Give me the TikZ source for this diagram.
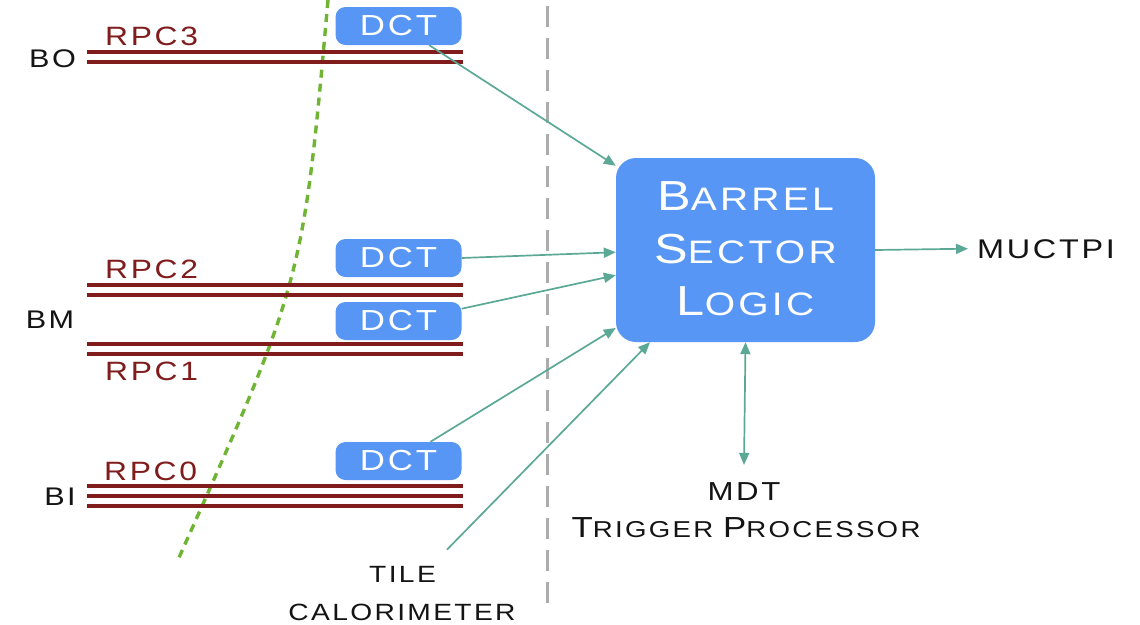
\documentclass[tikz,border=0pt]{standalone}
\usepackage{fontspec}
\setmainfont{Liberation Sans}
\newfontfamily\cpfont[FakeStretch=1.2,LetterSpace=10]{Liberation Sans}
\usetikzlibrary{arrows.meta}
\definecolor{boxblue}{RGB}{88,150,245}
\definecolor{rpcred}{RGB}{128,28,28}
\definecolor{arrowteal}{RGB}{92,168,150}
\definecolor{dotgreen}{RGB}{112,180,52}
\definecolor{dashgray}{RGB}{172,172,172}
\newcommand{\fs}[1]{\fontsize{#1}{#1}\selectfont}
\newcommand{\fsc}[4]{{\fs{#1}#3}{\fs{#2}#4}}
\begin{document}
\begin{tikzpicture}[x=1pt,y=-1pt,
  lbl/.style={inner sep=0pt, font=\cpfont\fs{25.5}, text=black!92},
  rpclbl/.style={lbl, text=rpcred, anchor=base west, font=\cpfont\fs{26.5}},
  dctbox/.style={fill=boxblue, rounded corners=10pt, minimum width=126pt, minimum height=38pt, inner sep=0pt, text=white, font=\cpfont\fs{29}},
  bigbox/.style={fill=boxblue, rounded corners=20pt, minimum width=259pt, minimum height=184pt, inner sep=0pt},
  boxtxt/.style={inner sep=0pt, text=white, font=\cpfont\fs{33}, anchor=base},
  rpc/.style={draw=rpcred, line width=3.2pt},
  sig/.style={draw=arrowteal, line width=1.7pt, -{Triangle[length=12pt,width=10pt]}},
  sigboth/.style={draw=arrowteal, line width=1.7pt, {Triangle[length=12pt,width=10pt]}-{Triangle[length=12pt,width=10pt]}},
  greendot/.style={draw=dotgreen, line width=3.4pt, dash pattern=on 8pt off 6pt},
  graydash/.style={draw=dashgray, line width=3pt, dash pattern=on 21pt off 11pt},
]
\useasboundingbox (0,0) rectangle (1140,624);
\fill[white] (0,0) rectangle (1140,624);

% separators
\draw[graydash] (547,6) -- (547,603);
\draw[greendot] (328,0) .. controls (303,281) .. (177,562);

% RPC planes
\draw[rpc] (87,52) -- (463,52);
\draw[rpc] (87,62) -- (463,62);
\draw[rpc] (87,285) -- (463,285);
\draw[rpc] (87,295) -- (463,295);
\draw[rpc] (87,344) -- (463,344);
\draw[rpc] (87,354) -- (463,354);
\draw[rpc] (87,486) -- (463,486);
\draw[rpc] (87,496) -- (463,496);
\draw[rpc] (87,506) -- (463,506);

% station labels
\node[lbl, anchor=base] (bo) at (52.5,67) {BO};
\node[lbl, anchor=base] (bm) at (50,328) {BM};
\node[lbl, anchor=base] (bi) at (60,505) {BI};
\node[rpclbl] (rpc3) at (105,45) {RPC3};
\node[rpclbl] (rpc2) at (105,278) {RPC2};
\node[rpclbl] (rpc1) at (105,380) {RPC1};
\node[rpclbl] (rpc0) at (104,480) {RPC0};

% DCT boxes
\node[dctbox] (d1) at (398.5,26) {DCT};
\node[dctbox] (d2) at (398.5,258) {DCT};
\node[dctbox] (d3) at (398.5,321) {DCT};
\node[dctbox] (d4) at (398.5,461) {DCT};

% Barrel sector logic
\node[bigbox] (bsl) at (745.5,250) {};
\node[boxtxt] (bsl1) at (745.5,210) {\fsc{42}{32.5}{B}{ARREL}};
\node[boxtxt] (bsl2) at (745.5,263) {\fsc{42}{32.5}{S}{ECTOR}};
\node[boxtxt] (bsl3) at (745.5,315) {\fsc{42}{32.5}{L}{OGIC}};

% outputs
\node[lbl, anchor=base west, font=\cpfont\fs{27}] (muc) at (977,258) {MUCTPI};
\node[lbl, anchor=base, font=\cpfont\fs{26}] (mdt) at (744,500) {MDT};
\node[lbl, anchor=base, font=\cpfont\fs{23}] (tp) at (746,537) {\fsc{29}{23}{T}{RIGGER} \fsc{29}{23}{P}{ROCESSOR}};
\node[lbl, anchor=base, font=\cpfont\fs{23.5}] (tile) at (402.5,582) {TILE};
\node[lbl, anchor=base, font=\cpfont\fs{23.5}] (calo) at (402,620) {CALORIMETER};

% connectors
\draw[sig] (d1.-32.8) -- (bsl.147.7);
\draw[sig] (d2.east) -- (bsl.181.3);
\draw[sig] (d3.11.7) -- (bsl.191.8);
\draw[sig] (d4.31.1) -- (bsl.211.4);
\draw[sig] ([xshift=11pt,yshift=16pt]tile.north east) -- (bsl.224.5);
\draw[sig] (bsl.east) -- ([xshift=-9pt]muc.west);
\draw[sigboth] (bsl.south) -- ([yshift=17pt]mdt.north);
\end{tikzpicture}
\end{document}
